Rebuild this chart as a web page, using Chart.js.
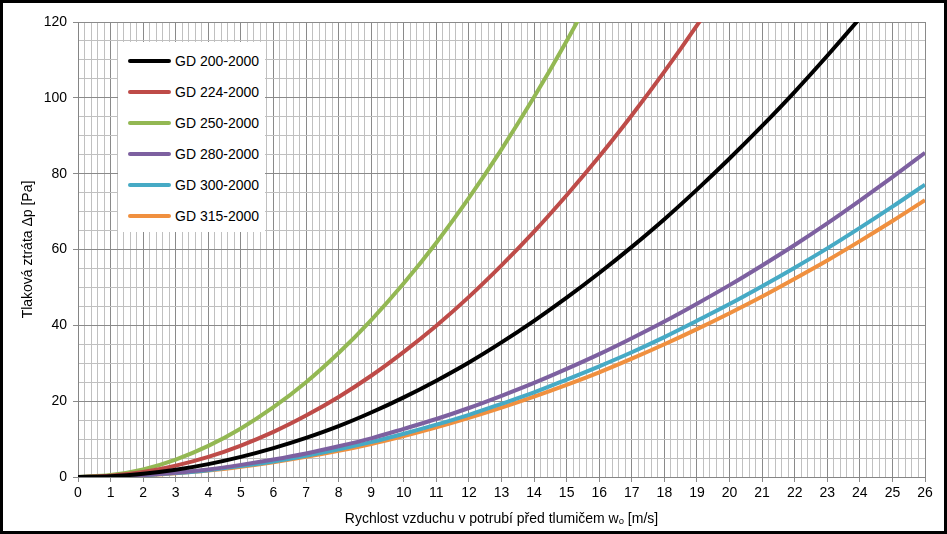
<!DOCTYPE html>
<html>
<head>
<meta charset="utf-8">
<script src="https://cdn.jsdelivr.net/npm/chart.js@4.4.0/dist/chart.umd.min.js"></script>
<style>
    html, body { margin: 0; padding: 0; background: #fff; }
    #wrap { position: relative; width: 947px; height: 534px; box-sizing: border-box; border: 3px solid #000; background: #fff; }
    #wrap canvas { display: block; }
    #legend { position: absolute; left: 115px; top: 39px; width: 147px; height: 190px; background: #fff;
        font-family: "Liberation Sans Narrow", "Arial Narrow", "Liberation Sans", Arial, sans-serif; font-size: 14px; color: #000; }
    .item { position: absolute; left: 10px; height: 20px; line-height: 20px; white-space: nowrap; }
    .item span.swatch { display: inline-block; width: 43px; height: 4px; border-radius: 2px; vertical-align: middle; margin-right: 4px; position: relative; top: -1px; }
</style>
</head>
<body>
<div id="wrap">
    <canvas id="lossChart" width="941" height="528"></canvas>
    <div id="legend"></div>
</div>
<script>
// rychlost vzduchu [m/s]
const speeds = [0, 1, 2, 3, 4, 5, 6, 7, 8, 9, 10, 11, 12, 13, 14, 15, 16, 17, 18, 19, 20, 21, 22, 23, 24, 25, 26];

// tlakova ztrata [Pa]
const gd200 = [0, 0.21, 0.84, 1.9, 3.4, 5.3, 7.6, 10.3, 13.4, 17.0, 21.0, 25.4, 30.2, 35.5, 41.2, 47.3, 53.8, 60.7, 68.0, 75.8, 84.0, 92.6, 101.6, 111.1, 121.0, 131.3, 142.0];
const gd224 = [0, 0.33, 1.32, 3.0, 5.3, 8.3, 11.9, 16.2, 21.1, 26.7, 33.0, 39.9, 47.5, 55.8, 64.7, 74.3, 84.5, 95.4, 106.9, 119.1, 132.0];
const gd250 = [0, 0.51, 2.0, 4.6, 8.2, 12.8, 18.4, 25.0, 32.7, 41.4, 51.1, 61.8, 73.6, 86.4, 100.2, 115.0, 130.8];
const gd280 = [0, 0.13, 0.51, 1.14, 2.0, 3.2, 4.6, 6.2, 8.1, 10.2, 12.7, 15.3, 18.2, 21.4, 24.8, 28.5, 32.4, 36.6, 41.0, 45.7, 50.6, 55.8, 61.2, 66.9, 72.9, 79.1, 85.5];
const gd300 = [0, 0.11, 0.46, 1.03, 1.8, 2.9, 4.1, 5.6, 7.3, 9.2, 11.4, 13.8, 16.4, 19.3, 22.3, 25.7, 29.2, 32.9, 36.9, 41.2, 45.6, 50.3, 55.2, 60.3, 65.7, 71.3, 77.1];
const gd315 = [0, 0.11, 0.43, 0.97, 1.7, 2.7, 3.9, 5.3, 6.9, 8.7, 10.8, 13.1, 15.6, 18.3, 21.2, 24.3, 27.6, 31.2, 35.0, 39.0, 43.2, 47.6, 52.3, 57.1, 62.2, 67.5, 73.0];

const seriesNames = ['GD 200-2000', 'GD 224-2000', 'GD 250-2000', 'GD 280-2000', 'GD 300-2000', 'GD 315-2000'];
const seriesColors = ['#000000', '#BE4B48', '#93B853', '#7D60A0', '#46AAC5', '#F0903F'];
const seriesValues = [gd200, gd224, gd250, gd280, gd300, gd315];

const FONT = '"Liberation Sans Narrow", "Arial Narrow", "Liberation Sans", Arial, sans-serif';
const isWhole = (v, step) => Math.abs(v / step - Math.round(v / step)) < 1e-6;

const datasets = seriesValues.map((vals, i) => ({
    label: seriesNames[i],
    data: vals.map((y, j) => ({ x: speeds[j], y: y })),
    borderColor: seriesColors[i],
    backgroundColor: seriesColors[i],
    borderWidth: 4,
    pointRadius: 0,
    cubicInterpolationMode: 'monotone',
    fill: false
}));

// legenda uvnitr grafu
const legend = document.getElementById('legend');
seriesNames.forEach((name, i) => {
    const row = document.createElement('div');
    row.className = 'item';
    row.style.top = (9 + i * 31) + 'px';
    row.innerHTML = '<span class="swatch" style="background:' + seriesColors[i] + '"></span>' + name;
    legend.appendChild(row);
});

new Chart(document.getElementById('lossChart').getContext('2d'), {
    type: 'line',
    data: { datasets: datasets },
    options: {
        responsive: false,
        animation: false,
        layout: { padding: { left: 0, right: 19, top: 19, bottom: 0 } },
        plugins: { legend: { display: false }, tooltip: { enabled: false } },
        scales: {
            x: {
                type: 'linear',
                min: 0,
                max: 26,
                afterFit: s => { s.height = 54; },
                border: { color: '#858585', width: 1 },
                grid: {
                    color: c => isWhole(c.tick.value, 1) ? '#8a8a8a' : '#c0c0c0',
                    tickColor: c => isWhole(c.tick.value, 1) ? '#8a8a8a' : 'rgba(0,0,0,0)',
                    tickLength: 5
                },
                ticks: {
                    stepSize: 0.2,
                    autoSkip: false,
                    maxRotation: 0,
                    padding: 3,
                    color: '#000',
                    font: { family: FONT, size: 14 },
                    callback: v => isWhole(v, 1) ? Math.round(v) : ''
                },
                title: {
                    display: true,
                    text: 'Rychlost vzduchu v potrubí před tlumičem wₒ [m/s]',
                    color: '#000',
                    font: { family: FONT, size: 14 },
                    padding: { top: 0, bottom: 3 }
                }
            },
            y: {
                min: 0,
                max: 120,
                afterFit: s => { s.width = 75; },
                border: { color: '#858585', width: 1 },
                grid: {
                    color: c => isWhole(c.tick.value, 20) ? '#8a8a8a' : '#c0c0c0',
                    tickColor: c => isWhole(c.tick.value, 20) ? '#8a8a8a' : 'rgba(0,0,0,0)',
                    tickLength: 5
                },
                ticks: {
                    stepSize: 5,
                    autoSkip: false,
                    padding: 6,
                    color: '#000',
                    font: { family: FONT, size: 14 },
                    callback: v => isWhole(v, 20) ? v : ''
                },
                title: {
                    display: true,
                    text: 'Tlaková ztráta Δp [Pa]',
                    color: '#000',
                    font: { family: FONT, size: 14 },
                    padding: { top: 17, bottom: 0 }
                }
            }
        }
    }
});
</script>
</body>
</html>
